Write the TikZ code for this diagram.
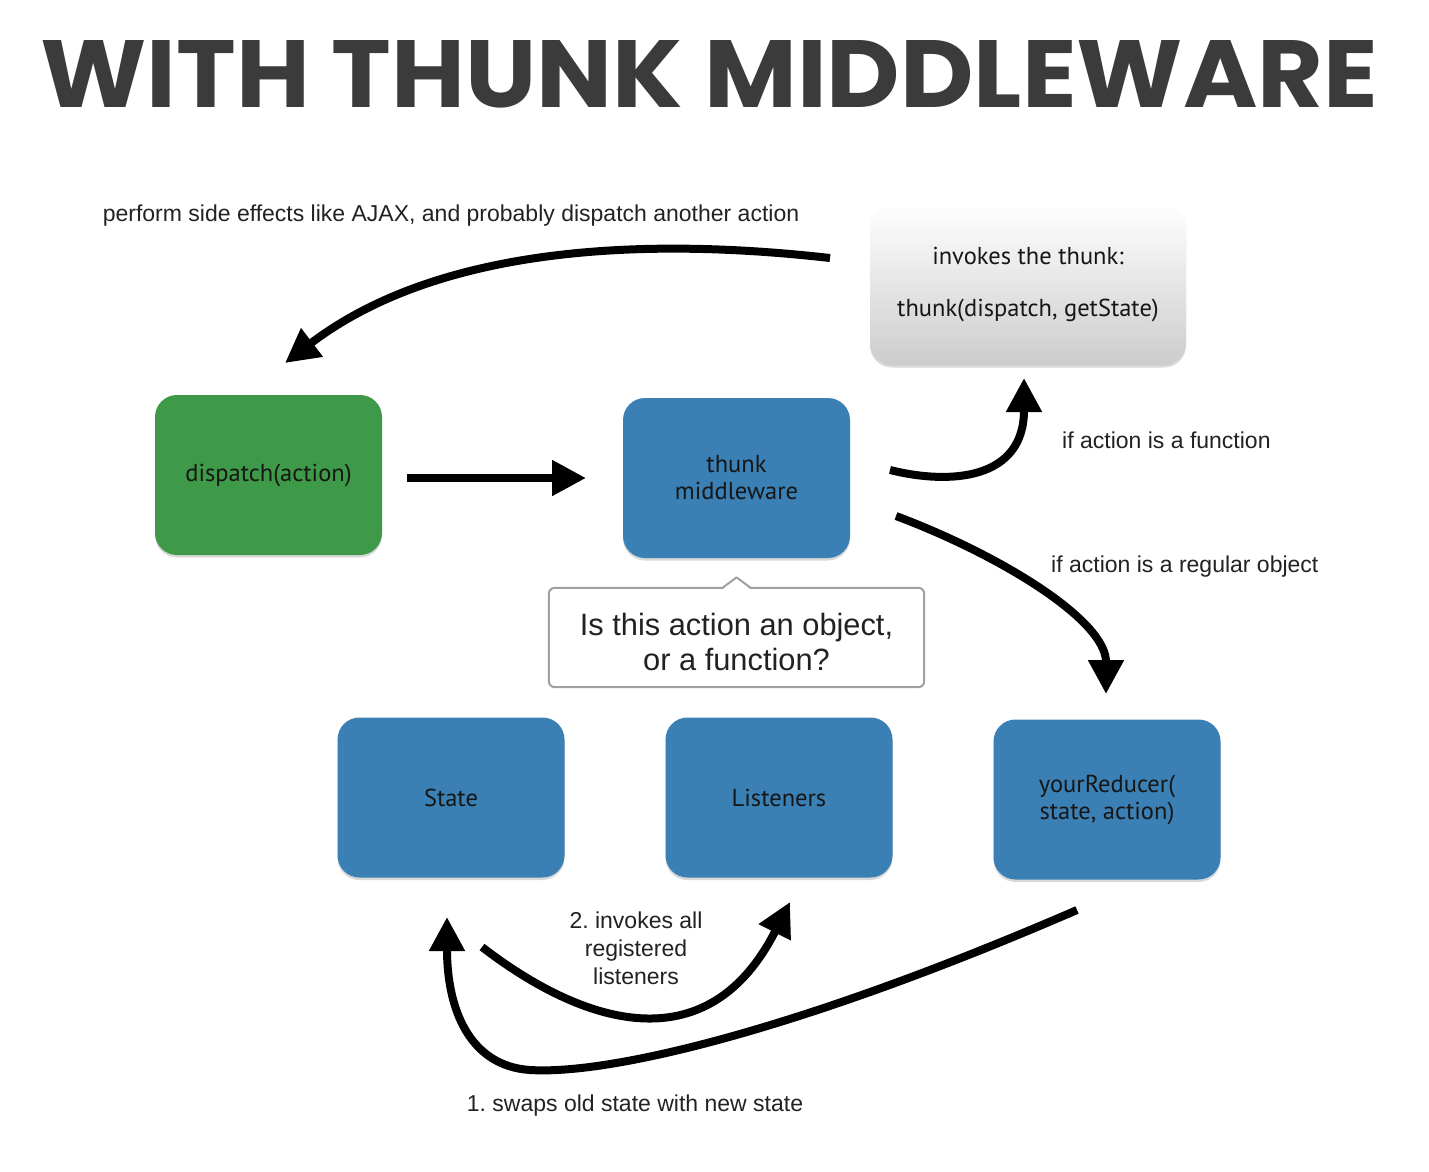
\documentclass[tikz,border=0pt]{standalone}
\usepackage{fontspec}
\setmainfont{Liberation Sans}
\newfontfamily\titlefont{Poppins}
\newfontfamily\boxfont{PT Sans}
\usetikzlibrary{arrows.meta,shadows}
\frenchspacing
\definecolor{boxblue}{HTML}{3B80B4}
\definecolor{boxgreen}{HTML}{3E9A48}
\definecolor{titlegray}{HTML}{3B3B3B}
\definecolor{boxtext}{HTML}{161616}
\definecolor{callborder}{HTML}{A0A0A0}
\definecolor{labeltext}{HTML}{222222}
\tikzset{
  card/.style={rectangle, rounded corners=22pt, minimum width=227pt, minimum height=160pt,
    text=boxtext, align=center, font=\boxfont\fontsize{24.5}{27}\selectfont,
    drop shadow={shadow xshift=0pt, shadow yshift=-2.5pt, opacity=0.15, fill=black}},
  bluecard/.style={card, fill=boxblue},
  greencard/.style={card, fill=boxgreen},
  graycard/.style={card, top color=white, bottom color=black!20, minimum width=316pt, minimum height=161pt},
  arr/.style={line width=8pt, draw=black, -{Triangle[length=34pt,width=34pt]}},
  lbl/.style={text=labeltext, font=\frenchspacing\fontsize{23}{28}\selectfont, inner sep=0pt, align=center},
}
\begin{document}
\begin{tikzpicture}[x=1pt,y=-1pt]
\useasboundingbox (0,0) rectangle (1429,1172);
\fill[white] (0,0) rectangle (1429,1172);

% title
\node[anchor=north west, inner sep=0pt, text=titlegray] (title) at (40,40)
  {\resizebox{1338pt}{67pt}{\titlefont\bfseries\fontsize{96}{96}\selectfont WITH THUNK MIDDLEWARE}};

% boxes
\node[greencard] (dispatch) at (268.5,475) {dispatch(action)};
\node[bluecard] (thunk) at (736.5,478) {thunk\\middleware};
\node[graycard] (invoke) at (1028,284.5) {invokes the thunk:\\[25pt]thunk(dispatch, getState)};
\node[bluecard] (state) at (451,797.5) {State};
\node[bluecard] (listeners) at (779,797.5) {Listeners};
\node[bluecard] (reducer) at (1107,799.5) {yourReducer(\\state, action)};

% callout (text node, border drawn around it)
\node[rectangle, minimum width=375pt, minimum height=99pt, align=center, text=labeltext,
  font=\fontsize{30.8}{35}\selectfont] (callout) at (736.5,642)
  {Is this action an object,\\or a function?};
\draw[callborder, line width=2pt, rounded corners=6pt]
  ([yshift=4.5pt]callout.south west) rectangle ([yshift=4.5pt]callout.north east);
\fill[white] ([xshift=-14pt,yshift=3pt]callout.north) -- ([yshift=15pt]callout.north) -- ([xshift=14pt,yshift=3pt]callout.north) -- cycle;
\draw[callborder, line width=2pt, line join=round] ([xshift=-14pt,yshift=4.5pt]callout.north) -- ([yshift=15pt]callout.north) -- ([xshift=14pt,yshift=4.5pt]callout.north);

% labels
\node[lbl] (lside) at (451,216) {perform side effects like AJAX, and probably dispatch another action};
\node[lbl, anchor=west] (lfunc) at (1062,440) {if action is a function};
\node[lbl, anchor=west] (lobj) at (1051,567) {if action is a regular object};
\node[lbl] (linv) at (636,948) {2. invokes all\\registered\\listeners};
\node[lbl] (lswap) at (635,1106) {1. swaps old state with new state};

% arrow endpoints
\coordinate (a1s) at (407,478);
\coordinate (a1e) at (586,478);
\coordinate (a2s) at (890,470);
\coordinate (a2e) at (1024,378);
\coordinate (a3s) at (896,516);
\coordinate (a3e) at (1106,694);
\coordinate (a4s) at (830,258);
\coordinate (a4e) at (285,363);
\coordinate (a5s) at (1077,910);
\coordinate (a5m) at (530,1070);
\coordinate (a5e) at (447,917);
\coordinate (a6s) at (482,947);
\coordinate (a6e) at (790,902);

% arrows
\draw[arr] (a1s) -- (a1e);
\draw[arr] (a2s) .. controls (950,485) and (1024,480) .. (a2e);
\draw[arr] (a3s) .. controls (1000,555) and (1106,620) .. (a3e);
\draw[arr] (a4s) .. controls (600,232) and (420,260) .. (a4e);
\draw[arr] (a5s) .. controls (800,1030) and (610,1075) .. (a5m) .. controls (470,1066) and (447,1010) .. (a5e);
\draw[arr] (a6s) .. controls (590,1030) and (710,1060) .. (a6e);
\end{tikzpicture}
\end{document}
